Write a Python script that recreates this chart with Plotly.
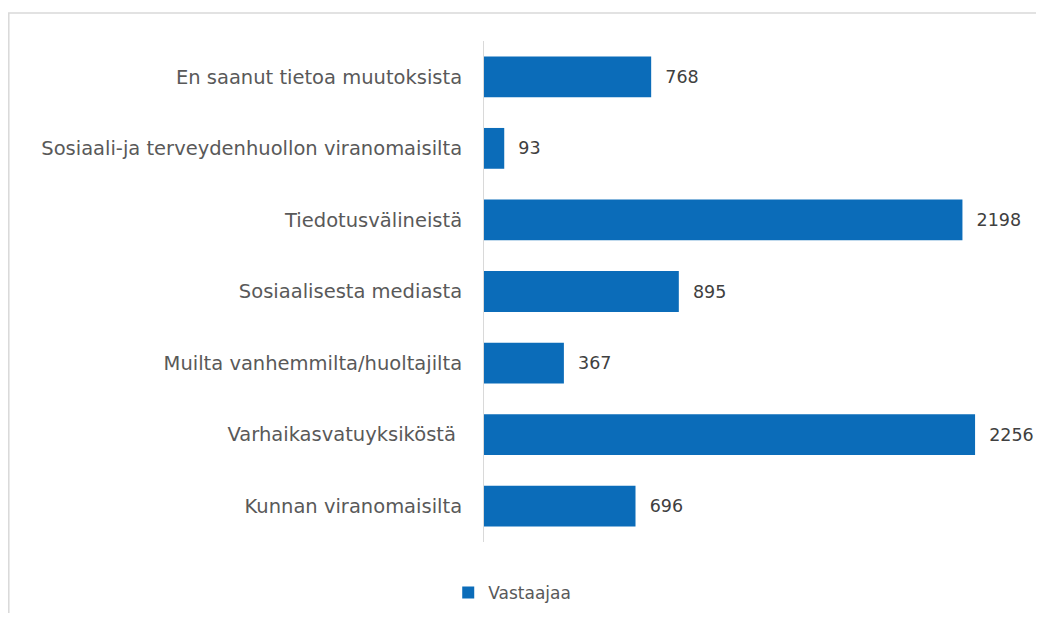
import plotly.graph_objects as go

categories = [
    "En saanut tietoa muutoksista",
    "Sosiaali-ja terveydenhuollon viranomaisilta",
    "Tiedotusvälineistä",
    "Sosiaalisesta mediasta",
    "Muilta vanhemmilta/huoltajilta",
    "Varhaikasvatuyksiköstä ",
    "Kunnan viranomaisilta",
]
values = [768, 93, 2198, 895, 367, 2256, 696]
series_name = "Vastaajaa"

FONT = "DejaVu Sans, Liberation Sans, Arial, sans-serif"

fig = go.Figure()
fig.add_trace(go.Bar(
    y=categories,
    x=values,
    orientation="h",
    name=series_name,
    marker=dict(color="#0B6CB9", line=dict(width=0)),
    text=values,
    texttemplate="  %{x}",
    textposition="outside",
    cliponaxis=False,
    textfont=dict(family=FONT, size=17.5, color="#404040"),
    showlegend=True,
))

W, H = 1028, 605
L, R, T, B = 476, 10, 33, 71
pw, ph = W - L - R, H - T - B

fig.update_layout(
    width=W, height=H,
    margin=dict(l=L, r=R, t=T, b=B, autoexpand=False),
    paper_bgcolor="white",
    plot_bgcolor="white",
    bargap=0.43,
    font=dict(family=FONT, size=19.5, color="#595959"),
    xaxis=dict(range=[0, 2490], visible=False, showgrid=False, zeroline=False),
    yaxis=dict(
        categoryorder="array", categoryarray=categories[::-1],
        autorange=False, range=[-0.5, 6.5],
        showline=True, linecolor="#D9D9D9", linewidth=1,
        ticks="", showgrid=False, ticklabelstandoff=17,
        tickfont=dict(family=FONT, size=19.5, color="#595959"),
    ),
    legend=dict(
        orientation="h", x=-0.066, xanchor="left",
        yref="container", y=20 / H, yanchor="middle",
        font=dict(family=FONT, size=17, color="#595959"), itemwidth=30,
    ),
    shapes=[dict(
        type="rect", xref="paper", yref="paper",
        x0=-(L - 0.8) / pw, x1=1.05, y0=-0.3, y1=1 + (T - 5) / ph,
        line=dict(color="#D9D9D9", width=1.5), fillcolor="rgba(0,0,0,0)", layer="below",
    )],
)

fig.write_html("out.html")
